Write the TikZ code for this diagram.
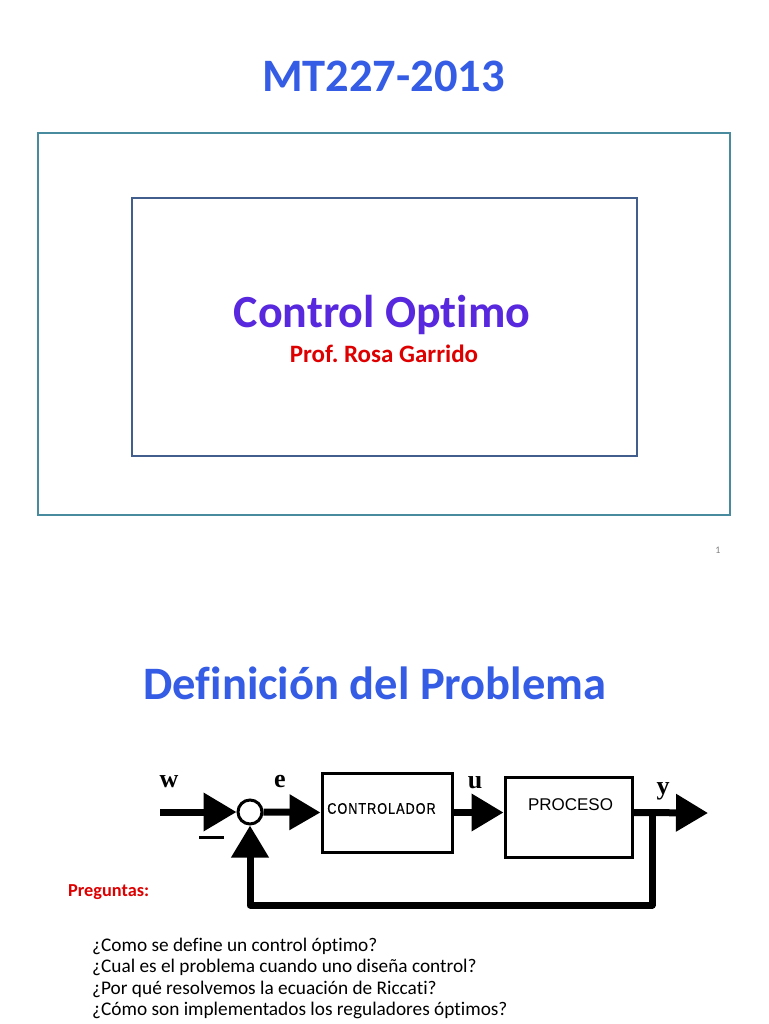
\documentclass[tikz,border=0pt]{standalone}
\usepackage{fontspec}
\setmainfont{Carlito}[Ligatures=NoCommon]
\newfontfamily\lsans{Liberation Sans}
\newfontfamily\lsanssp{Liberation Sans}[LetterSpace=8, FakeBold=0.6]
\newfontfamily\lserif{Liberation Serif}
\usetikzlibrary{arrows.meta}
\frenchspacing
\definecolor{titleblue}{RGB}{52,92,228}
\definecolor{purp}{RGB}{88,40,222}
\definecolor{redt}{RGB}{222,0,0}
\definecolor{outerc}{RGB}{72,138,158}
\definecolor{innerc}{RGB}{66,94,140}
\tikzset{
  title/.style={font=\fontsize{46.5}{50}\selectfont\bfseries, text=titleblue, inner sep=0pt, anchor=base},
  blk/.style={draw=black, line width=3pt, minimum width=130pt, inner sep=0pt},
  sig/.style={font=\lserif\bfseries\fontsize{26}{26}\selectfont, inner sep=0pt, anchor=base},
  wire/.style={line width=7pt},
  bigtip/.style={-{Triangle[length=32pt,width=36pt]}},
  frame/.style={line width=1.6pt}
}
\begin{document}
\begin{tikzpicture}[x=1pt,y=-1pt]
\useasboundingbox (0,0) rectangle (768,1024);
\fill[white] (0,0) rectangle (768,1024);

% Slide 1
\node[title] (t1) at (383.5,92) {MT227-2013};
\draw[frame, draw=outerc] (38,133) rectangle (730,515);
\draw[frame, draw=innerc] (132,198) rectangle (637,456);
\node[font=\fontsize{46}{50}\selectfont\bfseries, text=purp, inner sep=0pt, anchor=base] (co) at (382,327) {Control Optimo};
\node[font=\fontsize{25}{28}\selectfont\bfseries, text=redt, inner sep=0pt, anchor=base] (prof) at (384,362) {Prof. Rosa Garrido};
\node[font=\fontsize{10}{12}\selectfont, text=gray, inner sep=0pt, anchor=base] (pg) at (718,553) {1};

% Slide 2
\node[title] (t2) at (375,699) {Definición del Problema};

\node[draw=black, line width=3pt, circle, minimum size=24pt, inner sep=0pt, fill=white] (sum) at (250,812) {};
\node[blk, minimum height=79pt] (ctrl) at (387,812.5) {};
\node[inner sep=0pt] (ctrltxt) at (381.5,808.5) {\scalebox{0.82}[1]{\lsanssp\fontsize{15.4}{16}\selectfont CONTROLADOR}};
\node[blk, minimum width=127pt, minimum height=80pt] (proc) at (568.5,817) {};
\node[inner sep=0pt, font=\lsans\fontsize{17}{17}\selectfont] (proctxt) at (570.5,805) {PROCESO};

\coordinate (in) at (160,812);
\coordinate (out) at (708,813);
\coordinate (br) at (652,813);
\coordinate (bl) at (652,905);
\coordinate (bll) at (250,905);

\draw[wire, -{Triangle[length=33pt,width=37pt]}] (in) -- (sum.west);
\draw[wire, -{Triangle[length=31pt,width=34pt]}] (sum.east) -- (ctrl.west);
\draw[wire, bigtip] (ctrl.east) -- (ctrl.east -| proc.west);
\draw[wire, bigtip] (ctrl.east -| proc.east) -- (out);
\draw[wire, line join=round, -{Triangle[length=32pt,width=36pt]}] (br) -- (bl) -- (bll) -- (sum.south);

\draw[line width=3pt] (199,837) -- (224,837);

\node[sig] (lw) at (169,787) {w};
\node[sig] (le) at (280,787) {e};
\node[sig] (lu) at (475,788) {u};
\node[sig] (ly) at (663,794) {y};

\node[font=\fontsize{18.3}{20}\selectfont\bfseries, text=redt, inner sep=0pt, anchor=base west] (preg) at (68,896) {Preguntas:};

\node[font=\fontsize{19.3}{21.3}\selectfont, inner sep=0pt, anchor=base west, align=left] (qs) at (92,1015.5) {%
¿Como se define un control óptimo?\\
¿Cual es el problema cuando uno diseña control?\\
¿Por qué resolvemos la ecuación de Riccati?\\
¿Cómo son implementados los reguladores óptimos?};
\end{tikzpicture}
\end{document}
